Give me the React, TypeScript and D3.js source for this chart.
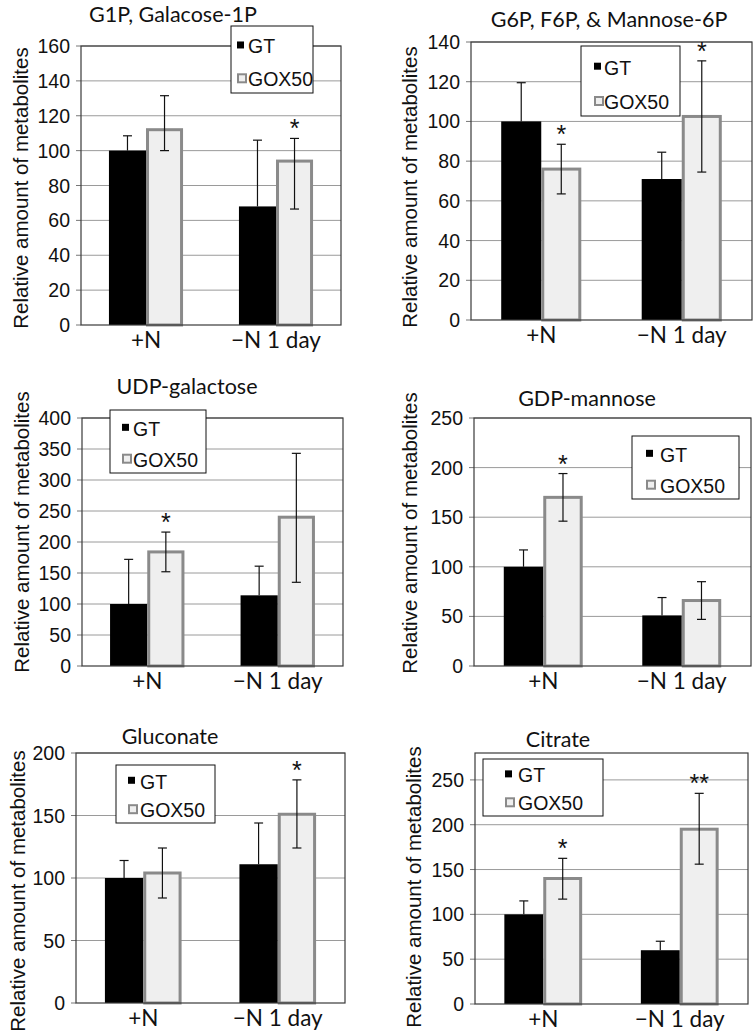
import React from "react";
import * as d3 from "d3";

// ---------- data ----------
const categories = ["+N", "\u2212N 1 day"];
const seriesNames = ["GT", "GOX50"];
const titles = [
  "G1P, Galacose-1P",
  "G6P, F6P, & Mannose-6P",
  "UDP-galactose",
  "GDP-mannose",
  "Gluconate",
  "Citrate",
];
const yMax = [160, 140, 400, 250, 200, 280];
const yStep = [20, 20, 50, 50, 50, 50];

const gtMean = [
  [100, 68],
  [100, 71],
  [100, 114],
  [100, 51],
  [100, 111],
  [100, 60],
];
const gtErr = [
  [8.5, 38],
  [19.5, 13.5],
  [72, 47],
  [17, 18],
  [14, 33],
  [15, 10],
];
const goxMean = [
  [112, 94],
  [76, 102.5],
  [184, 240],
  [170, 66],
  [104, 151],
  [140, 195],
];
const goxErrUp = [
  [19.5, 13],
  [12.5, 28],
  [32, 103],
  [24, 19],
  [20, 27.5],
  [22.5, 40],
];
const goxErrDown = [
  [12, 27.5],
  [12.5, 28],
  [32, 105],
  [24, 19],
  [20, 27],
  [23, 39],
];
const stars = [
  ["", "*"],
  ["*", "*"],
  ["*", ""],
  ["*", ""],
  ["", "*"],
  ["*", "**"],
];

// ---------- layout (pixels) ----------
// plot area: left, right, top, bottom
const plotBoxes = [
  [81, 341, 46, 325],
  [471, 752, 42, 320],
  [82, 343, 418, 666],
  [474, 751, 418, 666],
  [76, 345, 753, 1003],
  [475, 748, 753, 1004],
];
// legend: x, y, w, h, markerOffset, textOffset
const legendBoxes = [
  [231, 26, 82, 67, 6, 17],
  [581, 46, 99, 70, 13, 23],
  [110, 410, 96, 63, 12, 23],
  [632, 436, 107, 63, 14, 28],
  [116, 765, 99, 58, 12, 24],
  [483, 759, 120, 57, 22, 35],
];
// title center x, baseline y
const titlePos = [
  [173, 21.5],
  [609, 27],
  [187, 394],
  [587, 406],
  [170, 744],
  [558, 747],
];
// y-axis label center x, center y
const yLabelPos = [
  [21, 188],
  [410, 187],
  [22, 532],
  [410, 533],
  [18, 891],
  [414, 887],
];

const sansFont = "'Liberation Sans', Arial, Helvetica, sans-serif";
const titleFont = "Lato, 'Open Sans', sans-serif";

function Panel({ i }: { i: number }) {
  const [L, R, T, B] = plotBoxes[i];
  const y = d3.scaleLinear().domain([0, yMax[i]]).range([B, T]);
  const x0 = d3.scaleBand().domain(categories).range([L, R]).padding(0);
  const groupW = x0.bandwidth() * 0.57;
  const x1 = d3
    .scaleBand()
    .domain(seriesNames)
    .range([(x0.bandwidth() - groupW) / 2, (x0.bandwidth() + groupW) / 2]);
  const ticks = d3.range(0, Math.floor(yMax[i] / yStep[i]) * yStep[i] + 0.001, yStep[i]);
  const [lx, ly, lw, lh, mOff, tOff] = legendBoxes[i];
  const capW = 9;

  return (
    <g>
      {/* gridlines */}
      {ticks.map((t) =>
        t === 0 ? null : (
          <line key={"g" + t} x1={L} x2={R} y1={y(t)} y2={y(t)} stroke="#9a9a9a" strokeWidth={1} />
        )
      )}
      {/* ticks + labels */}
      {ticks.map((t) => (
        <g key={"t" + t}>
          <line x1={L - 5} x2={L} y1={y(t)} y2={y(t)} stroke="#777" strokeWidth={1} />
          <text
            x={L - 11}
            y={y(t)}
            dy="0.36em"
            textAnchor="end"
            fontFamily={sansFont}
            fontSize={19.5}
            fill="#111"
          >
            {t}
          </text>
        </g>
      ))}
      {/* bars */}
      {categories.map((c, ci) => {
        const gx = x0(c)!;
        const gtX = gx + x1("GT")!;
        const goX = gx + x1("GOX50")!;
        const bw = x1.bandwidth();
        const gm = gtMean[i][ci];
        const om = goxMean[i][ci];
        return (
          <g key={c}>
            <rect x={gtX} y={y(gm)} width={bw} height={B - y(gm)} fill="#000" />
            <rect
              x={goX + 1.5}
              y={y(om)}
              width={bw - 3}
              height={B - y(om)}
              fill="#efefef"
              stroke="#8a8a8a"
              strokeWidth={3}
            />
          </g>
        );
      })}
      {/* axis frame */}
      <rect x={L} y={T} width={R - L} height={B - T} fill="none" stroke="#3a3a3a" strokeWidth={1.2} />
      {/* error bars */}
      {categories.map((c, ci) => {
        const gx = x0(c)!;
        const bw = x1.bandwidth();
        const gcx = gx + x1("GT")! + bw / 2;
        const ocx = gx + x1("GOX50")! + bw / 2;
        const gTop = y(gtMean[i][ci] + gtErr[i][ci]);
        const gBase = y(gtMean[i][ci]);
        const oTop = y(goxMean[i][ci] + goxErrUp[i][ci]);
        const oBot = y(goxMean[i][ci] - goxErrDown[i][ci]);
        return (
          <g key={"e" + c} stroke="#111" strokeWidth={1.2}>
            <line x1={gcx} x2={gcx} y1={gTop} y2={gBase} />
            <line x1={gcx - capW / 2} x2={gcx + capW / 2} y1={gTop} y2={gTop} />
            <line x1={ocx} x2={ocx} y1={oTop} y2={oBot} />
            <line x1={ocx - capW / 2} x2={ocx + capW / 2} y1={oTop} y2={oTop} />
            <line x1={ocx - capW / 2} x2={ocx + capW / 2} y1={oBot} y2={oBot} />
            {stars[i][ci] ? (
              <text
                x={ocx}
                y={oTop - 1}
                textAnchor="middle"
                fontFamily={sansFont}
                fontSize={25}
                fill="#111"
                stroke="none"
              >
                {stars[i][ci]}
              </text>
            ) : null}
          </g>
        );
      })}
      {/* x labels */}
      {categories.map((c) => (
        <text
          key={"x" + c}
          x={x0(c)! + x0.bandwidth() / 2}
          y={B + 23}
          textAnchor="middle"
          fontFamily={titleFont}
          fontSize={22.5}
          fill="#111"
        >
          {c}
        </text>
      ))}
      {/* legend */}
      <rect x={lx} y={ly} width={lw} height={lh} fill="#fff" stroke="#111" strokeWidth={1} />
      {seriesNames.map((s, si) => {
        const base = ly + (si === 0 ? 0.41 : 0.9) * lh;
        return (
          <g key={"l" + s}>
            {si === 0 ? (
              <rect x={lx + mOff} y={base - 12} width={7} height={7} fill="#000" />
            ) : (
              <rect
                x={lx + mOff + 1}
                y={base - 12}
                width={8}
                height={8}
                fill="#efefef"
                stroke="#8a8a8a"
                strokeWidth={2}
              />
            )}
            <text x={lx + tOff} y={base} fontFamily={sansFont} fontSize={19.5} fill="#111">
              {s}
            </text>
          </g>
        );
      })}
      {/* title */}
      <text
        x={titlePos[i][0]}
        y={titlePos[i][1]}
        textAnchor="middle"
        fontFamily={titleFont}
        fontSize={21.5}
        fill="#111"
      >
        {titles[i]}
      </text>
      {/* y axis label */}
      <text
        transform={`translate(${yLabelPos[i][0]},${yLabelPos[i][1]}) rotate(-90)`}
        textAnchor="middle"
        dy="0.35em"
        fontFamily={sansFont}
        fontSize={20.5}
        fill="#111"
      >
        Relative amount of metabolites
      </text>
    </g>
  );
}

export default function App() {
  return (
    <div style={{ position: "absolute", left: 0, top: 0 }}>
      <svg width={754} height={1035} style={{ display: "block", background: "#fff" }}>
        {titles.map((_, i) => (
          <Panel key={i} i={i} />
        ))}
      </svg>
    </div>
  );
}
